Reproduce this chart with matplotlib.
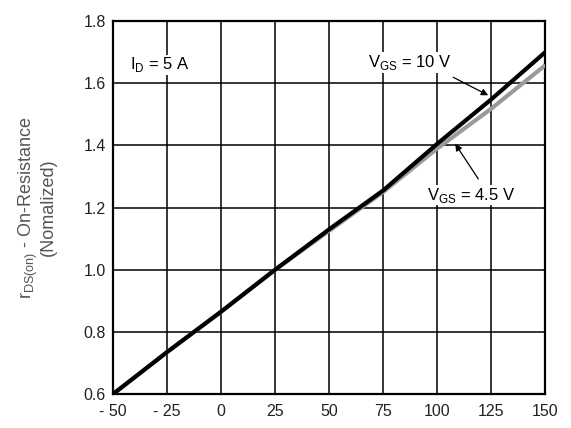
import matplotlib.pyplot as plt
import numpy as np

plt.rcParams['font.family'] = ['Liberation Sans', 'DejaVu Sans']

# Junction temperature (°C)
temp = [-50, -25, 0, 25, 50, 75, 100, 125, 150]
# Normalized on-resistance
r_vgs10 = [0.60, 0.735, 0.865, 1.00, 1.13, 1.255, 1.405, 1.548, 1.70]
r_vgs45 = [0.60, 0.735, 0.865, 1.00, 1.125, 1.25, 1.39, 1.518, 1.658]

xticks = [-50, -25, 0, 25, 50, 75, 100, 125, 150]
xticklabels = ['- 50', '- 25', '0', '25', '50', '75', '100', '125', '150']
yticks = [0.6, 0.8, 1.0, 1.2, 1.4, 1.6, 1.8]

fig = plt.figure(figsize=(5.71, 4.28), dpi=100)
ax = fig.add_axes([0.198, 0.0794, 0.757, 0.8715])

ax.plot(temp, r_vgs45, color='#9a9a9a', lw=3.0, solid_capstyle='butt', zorder=3)
ax.plot(temp, r_vgs10, color='black', lw=3.0, solid_capstyle='butt', zorder=4)

ax.set_xlim(-50, 150)
ax.set_ylim(0.6, 1.8)
ax.set_xticks(xticks)
ax.set_xticklabels(xticklabels)
ax.set_yticks(yticks)
ax.set_yticklabels([f'{v:.1f}' for v in yticks])
ax.grid(True, color='black', lw=1.1)
ax.tick_params(length=0, labelsize=11.5, colors='#222222', pad=5)
ax.tick_params(axis='x', pad=7)
for s in ax.spines.values():
    s.set_linewidth(1.6)

ax.set_ylabel(r'r$_{\mathregular{DS(on)}}$ - On-Resistance' + '\n(Nomalized)',
              fontsize=13, color='#555555', linespacing=1.0, labelpad=19)

label_box = dict(facecolor='white', edgecolor='none', pad=0.5)

ax.text(-42, 1.645, r'I$_{\mathregular{D}}$ = 5 A', fontsize=12, va='baseline', ha='left',
        zorder=5, bbox=label_box)

ax.text(68, 1.652, r'V$_{\mathregular{GS}}$ = 10 V', fontsize=12, ha='left', va='baseline',
        zorder=5, bbox=label_box)
ax.annotate('', xy=(123.6, 1.561), xytext=(107.4, 1.619),
            arrowprops=dict(arrowstyle='-|>', color='black', lw=0.9,
                            mutation_scale=10, shrinkA=0, shrinkB=0))
ax.annotate('', xy=(108.3, 1.405), xytext=(119, 1.292),
            arrowprops=dict(arrowstyle='-|>', color='black', lw=0.9,
                            mutation_scale=10, shrinkA=0, shrinkB=0))
ax.text(95.4, 1.225, r'V$_{\mathregular{GS}}$ = 4.5 V', fontsize=12, ha='left', va='baseline',
        zorder=5, bbox=label_box)

fig.savefig('out.png', dpi=100)
